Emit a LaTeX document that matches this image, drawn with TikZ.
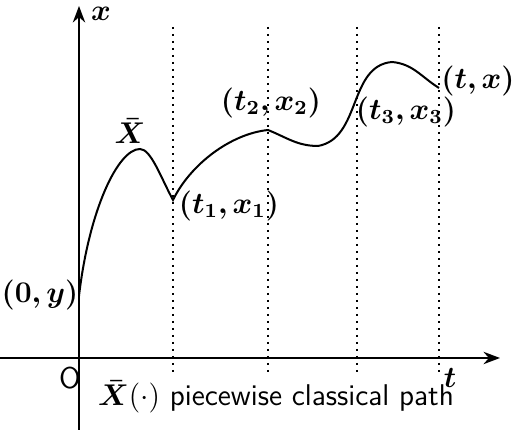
\documentclass[tikz,border=0pt]{standalone}
\usepackage{amsmath,amssymb,bm}
\usetikzlibrary{arrows.meta}

\begin{document}
\begin{tikzpicture}[
  x=0.4pt, y=0.4pt,
  %--- styles ---
  axisline/.style={-Stealth, thick},
  timeline/.style={dotted, thick},
  pathline/.style={thick},
  lbl/.style={inner sep=1pt, font=\large},
  captxt/.style={inner sep=1pt, font=\large\sffamily}
]
\useasboundingbox (0,0) rectangle (517,430);

%% ── AXES ───────────────────────────────────────────────────────────────────
\coordinate (origin) at (79,72);
\coordinate (tend) at (500,72);
\coordinate (xend) at (79,424);
\coordinate (ybot) at (79,0);
\coordinate (tbeg) at (0,72);
\draw[axisline] (tbeg) -- (tend);
\draw[axisline] (ybot) -- (xend);

%% ── DOTTED TIME MARKS ──────────────────────────────────────────────────────
\foreach \tx/\nm in {173/one, 268/two, 357/three, 439/four} {
  \coordinate (top\nm) at (\tx,403);
  \coordinate (bot\nm) at (\tx,55);
  \draw[timeline] (top\nm) -- (bot\nm);
}

%% ── PATH ───────────────────────────────────────────────────────────────────
\coordinate (start) at (79,134);
\coordinate (peakA) at (140,281);
\coordinate (kinkA) at (173,230);
\coordinate (kinkB) at (268,300);
\coordinate (valley) at (318,284);
\coordinate (peakB) at (392,368);
\coordinate (finish) at (439,342);
\draw[pathline] (start) .. controls (89,220) and (118,281) .. (peakA)
  .. controls (151,281) and (161,252) .. (kinkA)
  .. controls (190,265) and (230,296) .. (kinkB)
  to[out=-22,in=180] (valley)
  to[out=10,in=185] (peakB)
  to[out=-5,in=148] (finish);

%% ── LABELS ─────────────────────────────────────────────────────────────────
\node[lbl] (xlab) at (101,416) {$\bm{x}$};
\node[lbl] (tlab) at (450,52) {$\bm{t}$};
\node[captxt] (olab) at (70,52) {O};
\node[lbl] (barX) at (130,299) {$\bm{\bar{X}}$};
\node[lbl] (pone) at (229,224) {$\bm{(t_1,x_1)}$};
\node[lbl] (ptwo) at (271,327) {$\bm{(t_2,x_2)}$};
\node[lbl] (pthree) at (406,318) {$\bm{(t_3,x_3)}$};
\node[lbl] (pend) at (478,349) {$\bm{(t,x)}$};
\node[lbl] (pstart) at (40,135) {$\bm{(0,y)}$};
\node[captxt] (caption) at (276,33) {$\bm{\bar{X}}(\cdot)$ piecewise classical path};
\end{tikzpicture}
\end{document}
